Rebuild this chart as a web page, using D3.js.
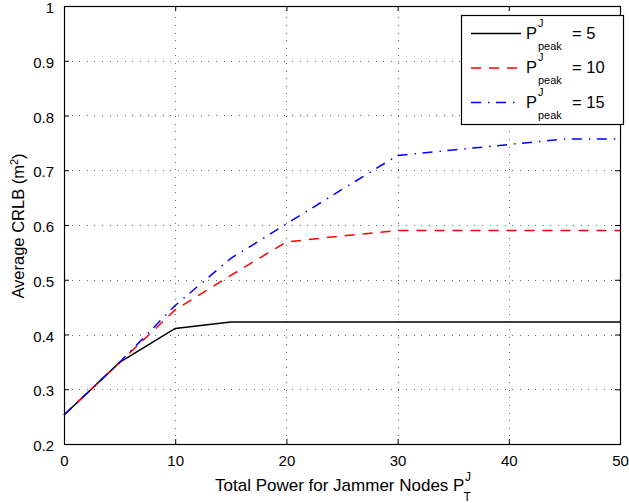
<!DOCTYPE html>
<html>
<head>
<meta charset="utf-8">
<script src="https://cdn.jsdelivr.net/npm/d3@7"></script>
<style>
  html, body { margin: 0; padding: 0; background: #fff; }
  svg { display: block; font-family: "Liberation Sans", Arial, Helvetica, sans-serif; }
</style>
</head>
<body>
<svg id="chart" width="629" height="503"></svg>
<script>
// Total jammer power (x) and average CRLB for three peak-power limits
const powerTotal = [0, 5, 10, 15, 20, 25, 30, 35, 40, 45, 50];
const crlbPeak5  = [0.253, 0.349, 0.411, 0.423, 0.423, 0.423, 0.423, 0.423, 0.423, 0.423, 0.423];
const crlbPeak10 = [0.253, 0.349, 0.445, 0.508, 0.569, 0.580, 0.590, 0.590, 0.590, 0.590, 0.590];
const crlbPeak15 = [0.253, 0.349, 0.453, 0.539, 0.602, 0.665, 0.727, 0.737, 0.747, 0.757, 0.757];
const peakLabels = ["5", "10", "15"];
const xTicks = [0, 10, 20, 30, 40, 50];
const yTicks = [0.2, 0.3, 0.4, 0.5, 0.6, 0.7, 0.8, 0.9, 1];

const svg = d3.select("#chart");
const plot = { left: 64, right: 620, top: 6, bottom: 444 };

const x = d3.scaleLinear().domain([0, 50]).range([plot.left, plot.right]);
const y = d3.scaleLinear().domain([0.2, 1]).range([plot.bottom, plot.top]);

const series = [
  { values: crlbPeak5,  color: "#000000", dash: null },
  { values: crlbPeak10, color: "#ff0000", dash: "10,8" },
  { values: crlbPeak15, color: "#0000ff", dash: "10,7,1.5,6.5" }
];

// dotted grid
const grid = svg.append("g").attr("stroke", "#666").attr("stroke-width", 1)
  .attr("stroke-dasharray", "1,6.6").attr("shape-rendering", "crispEdges");
xTicks.slice(1, -1).forEach(t => {
  grid.append("line").attr("x1", Math.round(x(t)) + 0.5).attr("x2", Math.round(x(t)) + 0.5)
    .attr("y1", plot.bottom).attr("y2", plot.top);
});
yTicks.slice(1, -1).forEach(t => {
  grid.append("line").attr("y1", Math.round(y(t)) + 0.5).attr("y2", Math.round(y(t)) + 0.5)
    .attr("x1", plot.left).attr("x2", plot.right);
});

// data lines
const line = d3.line().x((d, i) => x(powerTotal[i])).y(d => y(d));
series.forEach(s => {
  svg.append("path").datum(s.values)
    .attr("d", line)
    .attr("fill", "none")
    .attr("stroke", s.color)
    .attr("stroke-width", 1.5)
    .attr("stroke-dasharray", s.dash);
});

// axes: ticks point inwards, mirrored on top and right
const tickLen = 5;
const axisStyle = g => {
  g.select(".domain").remove();
  g.selectAll(".tick line").attr("stroke", "#000");
  g.selectAll(".tick text").attr("fill", "#000").attr("font-size", 15)
    .attr("font-family", "Liberation Sans, Arial, sans-serif");
};
svg.append("g").attr("transform", `translate(0,${plot.bottom})`)
  .call(d3.axisBottom(x).tickValues(xTicks).tickFormat(d3.format("d")).tickSizeInner(-tickLen).tickSizeOuter(0).tickPadding(11))
  .call(axisStyle);
svg.append("g").attr("transform", `translate(0,${plot.top})`)
  .call(d3.axisTop(x).tickValues(xTicks).tickFormat("").tickSizeInner(-tickLen).tickSizeOuter(0))
  .call(axisStyle);
svg.append("g").attr("transform", `translate(${plot.left},0)`)
  .call(d3.axisLeft(y).tickValues(yTicks).tickFormat(d => d3.format("")(+d.toFixed(1))).tickSizeInner(-tickLen).tickSizeOuter(0).tickPadding(10))
  .call(axisStyle)
  .call(g => g.selectAll(".tick text").attr("dy", "0.44em"));
svg.append("g").attr("transform", `translate(${plot.right},0)`)
  .call(d3.axisRight(y).tickValues(yTicks).tickFormat("").tickSizeInner(-tickLen).tickSizeOuter(0))
  .call(axisStyle);

// plot frame
svg.append("rect")
  .attr("x", plot.left + 0.5).attr("y", plot.top + 0.5)
  .attr("width", plot.right - plot.left).attr("height", plot.bottom - plot.top)
  .attr("fill", "none").attr("stroke", "#000").attr("stroke-width", 1.2);

// axis titles
const xTitle = svg.append("text").attr("x", 215).attr("y", 491).attr("font-size", 17).attr("fill", "#000");
xTitle.append("tspan").text("Total Power for Jammer Nodes P");
const xEnd = 215 + xTitle.node().getComputedTextLength();
svg.append("text").attr("x", xEnd + 0.5).attr("y", 481).attr("font-size", 12).text("J");
svg.append("text").attr("x", xEnd - 1).attr("y", 501).attr("font-size", 12).text("T");

const yTitle = svg.append("text")
  .attr("transform", "translate(24,226) rotate(-90)")
  .attr("text-anchor", "middle").attr("font-size", 16.5).attr("fill", "#000");
yTitle.append("tspan").text("Average CRLB (m");
yTitle.append("tspan").attr("dy", -6).attr("font-size", 11).text("2");
yTitle.append("tspan").attr("dy", 6).text(")");

// legend
const legend = svg.append("g");
legend.append("rect").attr("x", 461.5).attr("y", 15.5).attr("width", 162).attr("height", 109)
  .attr("fill", "#fff").attr("stroke", "#000").attr("stroke-width", 1.2);
series.forEach((s, i) => {
  const cy = 33.5 + i * 34.5;
  legend.append("line").attr("x1", 471).attr("x2", 521).attr("y1", cy).attr("y2", cy)
    .attr("stroke", s.color).attr("stroke-width", 1.5).attr("stroke-dasharray", s.dash);
  legend.append("text").attr("x", 526).attr("y", cy + 5).attr("font-size", 16.5).text("P");
  legend.append("text").attr("x", 538).attr("y", cy - 7).attr("font-size", 11).text("J");
  legend.append("text").attr("x", 538).attr("y", cy + 16).attr("font-size", 11).text("peak");
  legend.append("text").attr("x", 572).attr("y", cy + 5).attr("font-size", 16.5).text("= " + peakLabels[i]);
});
</script>
</body>
</html>
